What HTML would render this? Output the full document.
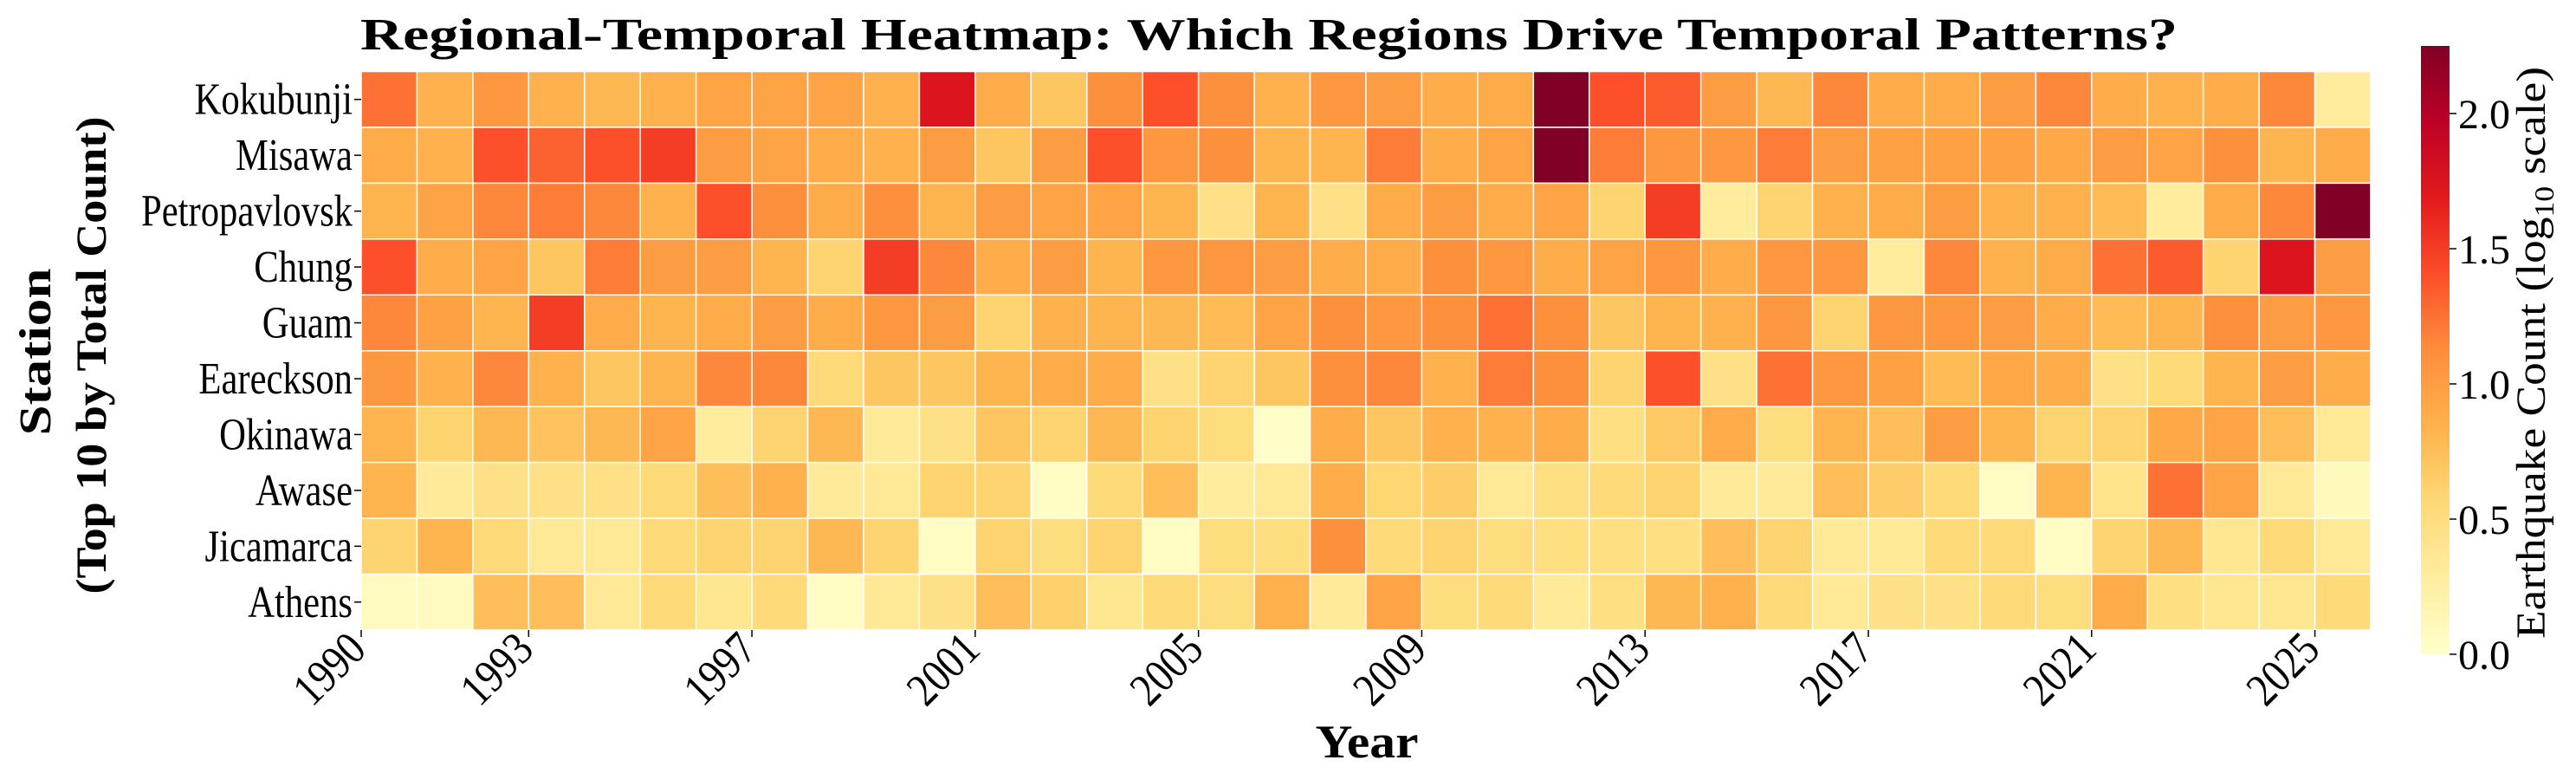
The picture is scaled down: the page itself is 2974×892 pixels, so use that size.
<!DOCTYPE html>
<html><head><meta charset="utf-8"><style>
html,body{margin:0;padding:0;background:#fff;}
svg{display:block;font-family:"Liberation Serif",serif;}
</style></head><body>
<svg id="chart" width="2974" height="892" viewBox="0 0 2974 892" xmlns="http://www.w3.org/2000/svg">
<text x="416" y="57" font-size="52" font-weight="bold" textLength="2098" lengthAdjust="spacingAndGlyphs">Regional-Temporal Heatmap: Which Regions Drive Temporal Patterns?</text>
<g id="cells"></g>
<g id="yticks"></g>
<g id="xticks"></g>
<text transform="translate(58,406) rotate(-90)" text-anchor="middle" font-size="52" font-weight="bold" textLength="193" lengthAdjust="spacingAndGlyphs">Station</text>
<text transform="translate(122,410) rotate(-90)" text-anchor="middle" font-size="50" font-weight="bold" textLength="551" lengthAdjust="spacingAndGlyphs">(Top 10 by Total Count)</text>
<text x="1578" y="874" text-anchor="middle" font-size="54" font-weight="bold" textLength="119" lengthAdjust="spacingAndGlyphs">Year</text>
<defs><linearGradient id="cbgrad" x1="0" y1="1" x2="0" y2="0">
<stop offset="0" stop-color="#ffffcc"/><stop offset="0.125" stop-color="#ffeda0"/><stop offset="0.25" stop-color="#fed976"/><stop offset="0.375" stop-color="#feb24c"/><stop offset="0.5" stop-color="#fd8d3c"/><stop offset="0.625" stop-color="#fc4e2a"/><stop offset="0.75" stop-color="#e31a1c"/><stop offset="0.875" stop-color="#bd0026"/><stop offset="1" stop-color="#800026"/>
</linearGradient></defs>
<rect x="2795" y="53" width="33" height="702" fill="url(#cbgrad)"/>
<g id="cbticks"></g>
<text transform="translate(2938,407) rotate(-90)" text-anchor="middle" font-size="48" textLength="660" lengthAdjust="spacingAndGlyphs">Earthquake Count (log<tspan font-size="32" dy="10">10</tspan><tspan dy="-10"> scale)</tspan></text>
</svg>
<script>
const stations = ["Kokubunji","Misawa","Petropavlovsk","Chung","Guam","Eareckson","Okinawa","Awase","Jicamarca","Athens"];
const years = [1990,1991,1992,1993,1994,1995,1996,1997,1998,1999,2000,2001,2002,2003,2004,2005,2006,2007,2008,2009,2010,2011,2012,2013,2014,2015,2016,2017,2018,2019,2020,2021,2022,2023,2024,2025];
const xTickLabels = ["1990","1993","1997","2001","2005","2009","2013","2017","2021","2025"];
const cbTickValues = [0,0.5,1.0,1.5,2.0];
const vmax = 2.25;
const rowKokubunji = [1.25,0.85,1.05,0.85,0.8,0.85,0.95,0.95,0.95,0.85,1.75,0.9,0.7,1.1,1.4,1.1,0.85,1.05,1.0,0.88,0.9,2.25,1.4,1.35,1.0,0.8,1.15,0.9,0.9,1.0,1.15,0.88,0.85,0.88,1.15,0.3];
const rowMisawa = [0.9,0.85,1.4,1.32,1.4,1.5,1.0,0.95,0.88,0.85,1.0,0.7,1.0,1.4,1.05,1.1,0.82,0.82,1.2,0.88,0.95,2.25,1.2,1.05,1.05,1.2,1.0,0.98,0.98,0.98,0.92,1.0,0.95,1.1,0.82,0.9];
const rowPetropavlovsk = [0.82,0.95,1.15,1.2,1.15,0.85,1.4,1.1,0.9,1.1,0.82,1.0,0.95,0.95,0.82,0.45,0.82,0.45,0.9,1.0,0.9,0.95,0.6,1.5,0.3,0.6,0.85,0.9,1.0,0.85,0.85,0.78,0.3,0.9,1.15,2.25];
const rowChung = [1.4,0.88,0.95,0.7,1.2,1.0,1.0,0.82,0.6,1.5,1.15,0.88,1.0,0.82,1.05,1.05,1.0,0.88,0.9,1.1,1.05,0.88,0.95,1.05,0.88,1.05,1.05,0.3,1.15,0.85,0.9,1.25,1.35,0.6,1.75,1.0];
const rowGuam = [1.15,0.98,0.82,1.5,0.9,0.82,0.9,1.0,0.9,1.05,1.0,0.6,0.85,0.82,0.8,0.78,0.95,1.1,1.05,1.1,1.25,1.1,0.7,0.82,0.85,1.05,0.6,1.05,1.05,1.0,0.9,0.78,0.82,1.1,1.0,1.05];
const rowEareckson = [1.05,0.85,1.15,0.85,0.7,0.82,1.15,1.15,0.55,0.7,0.7,0.82,0.9,0.88,0.45,0.6,0.7,1.1,1.15,0.85,1.2,1.1,0.6,1.4,0.45,1.25,1.05,0.98,0.78,0.92,0.88,0.45,0.55,0.82,1.0,0.9];
const rowOkinawa = [0.82,0.6,0.8,0.72,0.8,0.95,0.3,0.6,0.8,0.32,0.45,0.7,0.6,0.8,0.6,0.5,0.02,0.88,0.7,0.85,0.85,0.88,0.48,0.68,0.9,0.5,0.82,0.75,1.0,0.82,0.6,0.6,0.92,0.95,0.75,0.35];
const rowAwase = [0.82,0.32,0.45,0.45,0.45,0.55,0.75,0.85,0.32,0.35,0.6,0.6,0.05,0.55,0.75,0.3,0.35,0.88,0.58,0.65,0.35,0.48,0.55,0.6,0.32,0.33,0.75,0.65,0.55,0.05,0.82,0.42,1.25,0.95,0.35,0.1];
const rowJicamarca = [0.6,0.82,0.55,0.35,0.35,0.55,0.6,0.6,0.8,0.6,0.05,0.6,0.5,0.6,0.05,0.5,0.5,1.1,0.55,0.6,0.5,0.48,0.48,0.48,0.75,0.6,0.35,0.35,0.55,0.55,0.05,0.6,0.8,0.38,0.55,0.35];
const rowAthens = [0.08,0.08,0.75,0.75,0.35,0.55,0.38,0.55,0.05,0.35,0.45,0.75,0.62,0.38,0.55,0.5,0.85,0.32,0.95,0.5,0.55,0.32,0.48,0.8,0.85,0.55,0.35,0.45,0.45,0.55,0.5,0.9,0.48,0.38,0.38,0.55];
const values = [rowKokubunji,rowMisawa,rowPetropavlovsk,rowChung,rowGuam,rowEareckson,rowOkinawa,rowAwase,rowJicamarca,rowAthens];

const NS='http://www.w3.org/2000/svg';
const gleft=417,gtop=82.5,cw=(2737-417)/years.length,ch=(727-82.5)/stations.length;
const cbTop=53,cbBot=755;
const xScale=i=>gleft+i*cw;
const yScale=j=>gtop+j*ch;
const cbScale=v=>cbBot-(v/vmax)*(cbBot-cbTop);
const cstops=[[255,255,204],[255,237,160],[254,217,118],[254,178,76],[253,141,60],[252,78,42],[227,26,28],[189,0,38],[128,0,38]];
function colorOf(v){
  let t=Math.max(0,Math.min(1,v/vmax))*(cstops.length-1);
  let i=Math.min(Math.floor(t),cstops.length-2),f=t-i;
  const c=cstops[i].map((a,k)=>Math.round(a+(cstops[i+1][k]-a)*f));
  return 'rgb('+c.join(',')+')';
}
function mk(tag,attrs,parent){const e=document.createElementNS(NS,tag);for(const k in attrs)e.setAttribute(k,attrs[k]);parent.appendChild(e);return e;}
function condense(t,f){const w=t.getComputedTextLength();t.setAttribute('textLength',w*f);t.setAttribute('lengthAdjust','spacingAndGlyphs');}
const cellsG=document.getElementById('cells');
values.forEach((row,j)=>{row.forEach((v,i)=>{
  const r=mk('rect',{x:xScale(i),y:yScale(j),width:cw,height:ch,fill:colorOf(v),stroke:'#fff','stroke-width':1.5},cellsG);
  
  
});});
const ytG=document.getElementById('yticks');
stations.forEach((s,j)=>{
  const y=yScale(j)+ch/2;
  const tk=mk('line',{x1:gleft-8,x2:gleft,y1:y,y2:y,stroke:'#000','stroke-width':1.5},ytG);
  
  
  const t=mk('text',{x:gleft-10,y:y+17,'text-anchor':'end','font-size':52},ytG);
  
  
  t.textContent=s;
  condense(t,0.82);
});
const xtG=document.getElementById('xticks');
xTickLabels.forEach(lab=>{
  const i=years.indexOf(+lab);
  const x=xScale(i);
  const tk=mk('line',{x1:x,x2:x,y1:727,y2:735,stroke:'#000','stroke-width':1.5},xtG);
  
  
  const t=mk('text',{transform:'translate('+(x+8)+',752) rotate(-45)','text-anchor':'end','font-size':54},xtG);
  
  
  t.textContent=lab;
  condense(t,0.85);
});
const cbG=document.getElementById('cbticks');
cbTickValues.forEach(v=>{
  const y=cbScale(v);
  const tk=mk('line',{x1:2828,x2:2836,y1:y,y2:y,stroke:'#000','stroke-width':1.5},cbG);
  
  
  const t=mk('text',{x:2838,y:y+17,'font-size':48},cbG);
  
  
  t.textContent=v.toFixed(1);
});
</script>
</body></html>
